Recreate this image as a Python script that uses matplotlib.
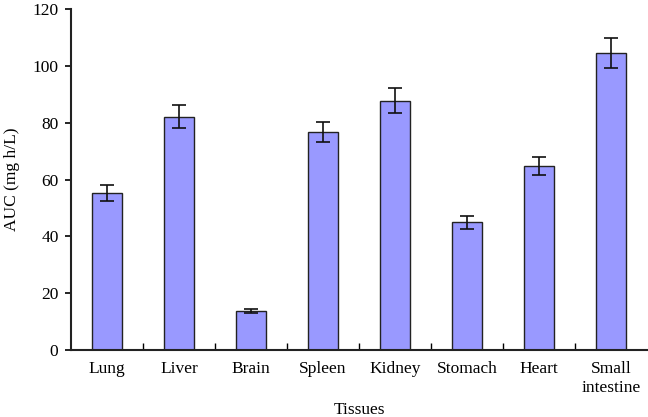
import matplotlib.pyplot as plt
import numpy as np

tissues = ["Lung", "Liver", "Brain", "Spleen", "Kidney", "Stomach", "Heart", "Small\nintestine"]
auc = [55.2, 82.1, 13.7, 76.7, 87.8, 45.0, 64.8, 104.6]
auc_sd = [2.8, 4.1, 0.8, 3.6, 4.4, 2.3, 3.2, 5.3]

plt.rcParams["font.family"] = ["Liberation Serif", "DejaVu Serif"]

fig = plt.figure(figsize=(6.48, 4.17), dpi=100)
ax = fig.add_axes([71 / 648, (417 - 350) / 417, 576 / 648, 341 / 417])

x = np.arange(len(tissues))
ax.bar(x, auc, width=0.41, color="#9999ff", edgecolor="#222222", linewidth=1.0,
       yerr=auc_sd, capsize=5, error_kw={"elinewidth": 1.2, "capthick": 1.2, "ecolor": "#111111"})

ax.set_xlim(-0.5, len(tissues) - 0.5)
ax.set_ylim(0, 120)
ax.set_yticks(range(0, 121, 20))
ax.tick_params(axis="y", direction="out", length=4, width=1.2, labelsize=12.5, pad=5)
ax.tick_params(axis="x", which="major", length=0, labelsize=12.5, pad=8)
ax.set_xticks(x)
ax.set_xticklabels(tissues, linespacing=1.25)
ax.set_xticks(np.arange(0.5, len(tissues) - 0.5, 1.0), minor=True)
ax.tick_params(axis="x", which="minor", direction="in", length=5, width=1.0)

for side in ("top", "right"):
    ax.spines[side].set_visible(False)
for side in ("left", "bottom"):
    ax.spines[side].set_linewidth(1.5)
    ax.spines[side].set_color("#222222")

ax.set_ylabel("AUC (mg h/L)", fontsize=12.5, labelpad=9)
ax.set_xlabel("Tissues", fontsize=12.5, labelpad=4)

fig.savefig("out.png", dpi=100)
